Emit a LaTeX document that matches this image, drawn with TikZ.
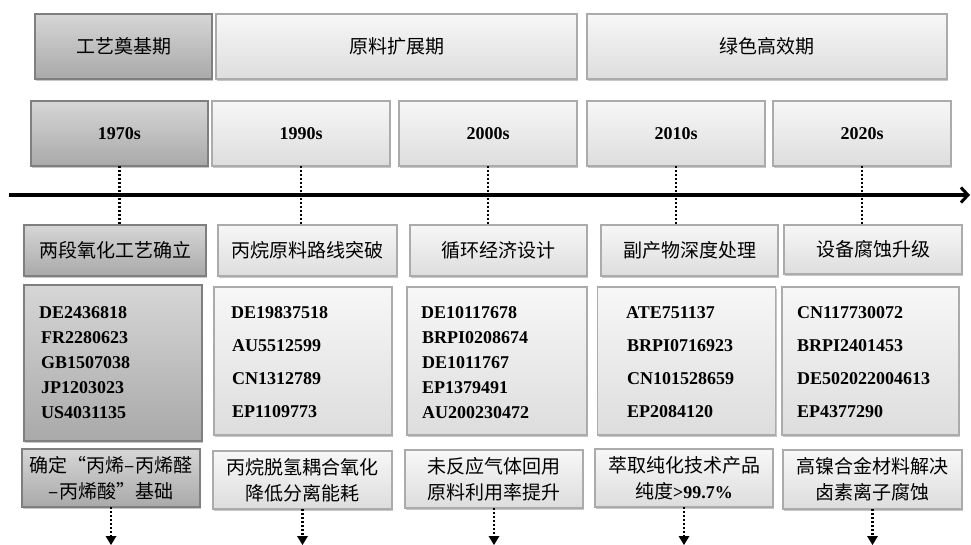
\documentclass[tikz,border=0pt]{standalone}
\usepackage{fontspec}
\setmainfont{Liberation Serif}
\newfontfamily\cjk{Noto Sans CJK SC}
\usetikzlibrary{shadows,arrows.meta}
\definecolor{darktop}{HTML}{D6D6D6}
\definecolor{darkbot}{HTML}{A9A9A9}
\definecolor{darkline}{HTML}{7F7F7F}
\definecolor{lighttop}{HTML}{F7F7F7}
\definecolor{lightbot}{HTML}{DDDDDD}
\definecolor{lightline}{HTML}{ABABAB}
\tikzset{
  basebox/.style={rectangle, line width=1.3pt, inner sep=0pt, outer sep=0pt,
    drop shadow={shadow xshift=1.2pt, shadow yshift=-2.2pt, fill=black, opacity=0.22}},
  darkbox/.style={basebox, draw=darkline, top color=darktop, bottom color=darkbot},
  lightbox/.style={basebox, draw=lightline, top color=lighttop, bottom color=lightbot},
  cjktext/.style={font=\cjk\fontsize{19}{26}\selectfont, text=black},
  yeartext/.style={font=\bfseries\fontsize{18}{22}\selectfont},
  pattext/.style={font=\bfseries\fontsize{18}{25}\selectfont, align=left, inner sep=0pt, anchor=west},
  pattextw/.style={font=\bfseries\fontsize{18}{33}\selectfont, align=left, inner sep=0pt, anchor=west},
  dotline/.style={line width=2.6pt, dash pattern=on 2.4pt off 1.6pt},
  axisline/.style={line width=4pt, -{Straight Barb[length=7pt,width=15pt,line width=3pt]}},
  downarrow/.style={dotline, -{Triangle[length=9pt,width=11pt,line width=0pt]}, shorten >=-1pt}
}
\begin{document}
\begin{tikzpicture}[x=1pt,y=-1pt]
\useasboundingbox (0,0) rectangle (971,545);
% phase row
\node[darkbox, minimum width=177pt, minimum height=65pt, cjktext] (p1) at (123.5,46.5) {工艺奠基期};
\node[lightbox, minimum width=361pt, minimum height=65pt, cjktext] (p2) at (396.5,46.5) {原料扩展期};
\node[lightbox, minimum width=360pt, minimum height=65pt, cjktext] (p3) at (767,46.5) {绿色高效期};
% year row
\node[darkbox, minimum width=177pt, minimum height=65pt, yeartext] (y1) at (119.5,133.5) {1970s};
\node[lightbox, minimum width=178pt, minimum height=65pt, yeartext] (y2) at (301,133.5) {1990s};
\node[lightbox, minimum width=178pt, minimum height=65pt, yeartext] (y3) at (488,133.5) {2000s};
\node[lightbox, minimum width=178pt, minimum height=65pt, yeartext] (y4) at (676,133.5) {2010s};
\node[lightbox, minimum width=178pt, minimum height=65pt, yeartext] (y5) at (862,133.5) {2020s};
% axis
\coordinate (axL) at (9,195);
\coordinate (axR) at (970,195);
% title row
\node[darkbox, minimum width=182pt, minimum height=51pt, cjktext] (t1) at (115,250.5) {两段氧化工艺确立};
\node[lightbox, minimum width=179pt, minimum height=51pt, cjktext] (t2) at (307.5,250.5) {丙烷原料路线突破};
\node[lightbox, minimum width=177pt, minimum height=51pt, cjktext] (t3) at (498.5,250.5) {循环经济设计};
\node[lightbox, minimum width=177pt, minimum height=51pt, cjktext] (t4) at (689.5,250.5) {副产物深度处理};
\node[lightbox, minimum width=178pt, minimum height=49pt, cjktext] (t5) at (873,249.5) {设备腐蚀升级};
% dotted connectors year -> title
\foreach \i in {1,...,5} {
  \draw[dotline] (y\i.south) -- (y\i.south |- t\i.north);
}
\draw[axisline] (axL) -- (axR);
% patent boxes
\node[darkbox, minimum width=178pt, minimum height=156pt] (b1) at (113,363) {};
\node[lightbox, minimum width=178pt, minimum height=148pt] (b2) at (303,361) {};
\node[lightbox, minimum width=180pt, minimum height=148pt] (b3) at (497,361) {};
\node[lightbox, minimum width=178pt, minimum height=148pt] (b4) at (686.5,361) {};
\node[lightbox, minimum width=177pt, minimum height=148pt] (b5) at (870.5,361) {};
\node[pattext] (n1) at (39,362.5) {DE2436818\\\hspace{2pt}FR2280623\\\hspace{2pt}GB1507038\\\hspace{2pt}JP1203023\\\hspace{2pt}US4031135};
\node[pattextw] (n2) at (231,362) {DE19837518\\\hspace{1pt}AU5512599\\\hspace{1pt}CN1312789\\\hspace{1pt}EP1109773};
\node[pattext] (n3) at (421,362.5) {DE10117678\\\hspace{1pt}BRPI0208674\\\hspace{1pt}DE1011767\\\hspace{1pt}EP1379491\\\hspace{1pt}AU200230472};
\node[pattextw] (n4) at (626,362) {ATE751137\\\hspace{1pt}BRPI0716923\\\hspace{1pt}CN101528659\\\hspace{1pt}EP2084120};
\node[pattextw] (n5) at (797,362) {CN117730072\\BRPI2401453\\DE502022004613\\EP4377290};
% description boxes
\node[darkbox, minimum width=178pt, minimum height=58pt, cjktext, align=center] (d1) at (111,478) {确定“丙烯–丙烯醛\\–丙烯酸”基础};
\node[lightbox, minimum width=179pt, minimum height=58pt, cjktext, align=center] (d2) at (302.5,480) {丙烷脱氢耦合氧化\\降低分离能耗};
\node[lightbox, minimum width=178pt, minimum height=58pt, cjktext, align=center] (d3) at (494,479) {未反应气体回用\\原料利用率提升};
\node[lightbox, minimum width=178pt, minimum height=58pt, cjktext, align=center] (d4) at (684,478) {萃取纯化技术产品\\纯度{\rmfamily\bfseries\fontsize{18}{26}\selectfont >99.7\%}};
\node[lightbox, minimum width=179pt, minimum height=59pt, cjktext, align=center] (d5) at (872.5,479.5) {高镍合金材料解决\\卤素离子腐蚀};
% bottom arrows
\foreach \i in {1,...,5} {
  \draw[downarrow] (d\i.south) -- (d\i.south |- 0,544);
}
\end{tikzpicture}
\end{document}
